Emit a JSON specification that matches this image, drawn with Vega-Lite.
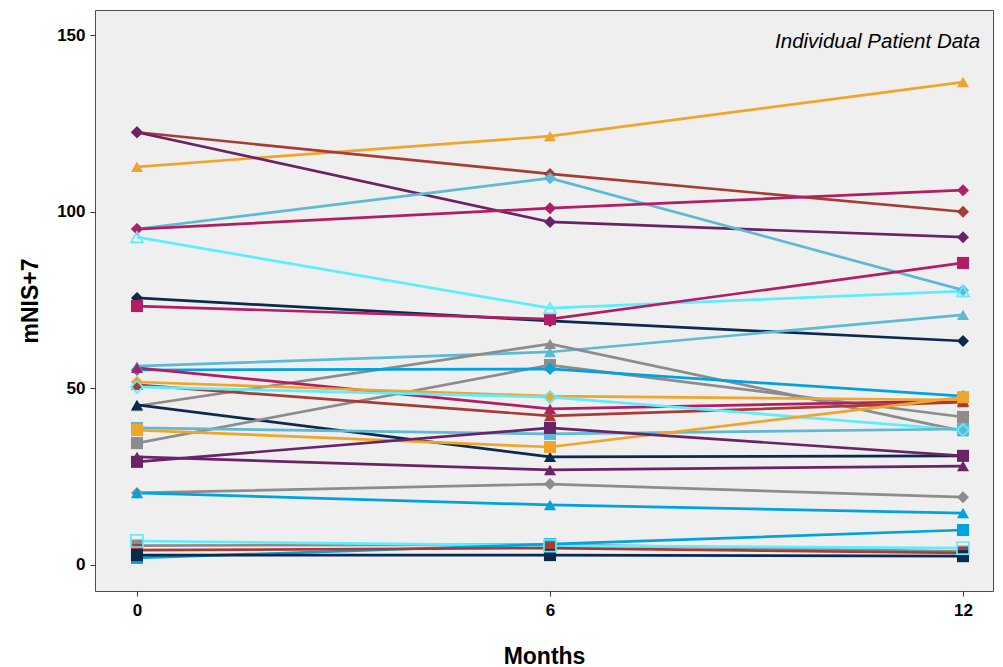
{
  "$schema": "https://vega.github.io/schema/vega-lite/v6.json",
  "width": 898,
  "height": 581,
  "autosize": {"type": "none"},
  "padding": {"left": 95, "top": 10, "right": 10, "bottom": 76},
  "background": "white",
  "config": {
    "font": "Liberation Sans",
    "view": {"fill": "#EFEFEF", "stroke": "#4D4D4D", "strokeWidth": 1}
  },
  "datasets": {
    "pts": [
      {"pid": "P01", "month": 0, "value": 112.7, "open": 0}, {"pid": "P01", "month": 6, "value": 121.4, "open": 0}, {"pid": "P01", "month": 12, "value": 136.7, "open": 0},
      {"pid": "P02", "month": 0, "value": 122.5, "open": 0}, {"pid": "P02", "month": 6, "value": 110.7, "open": 0}, {"pid": "P02", "month": 12, "value": 100.0, "open": 0},
      {"pid": "P03", "month": 0, "value": 122.5, "open": 0}, {"pid": "P03", "month": 6, "value": 97.1, "open": 0}, {"pid": "P03", "month": 12, "value": 92.8, "open": 0},
      {"pid": "P04", "month": 0, "value": 95.1, "open": 0}, {"pid": "P04", "month": 6, "value": 109.5, "open": 0}, {"pid": "P04", "month": 12, "value": 77.8, "open": 0},
      {"pid": "P05", "month": 0, "value": 95.1, "open": 0}, {"pid": "P05", "month": 6, "value": 101.0, "open": 0}, {"pid": "P05", "month": 12, "value": 106.1, "open": 0},
      {"pid": "P06", "month": 0, "value": 92.8, "open": 1}, {"pid": "P06", "month": 6, "value": 72.7, "open": 1}, {"pid": "P06", "month": 12, "value": 77.5, "open": 1},
      {"pid": "P07", "month": 0, "value": 75.6, "open": 0}, {"pid": "P07", "month": 6, "value": 69.1, "open": 0}, {"pid": "P07", "month": 12, "value": 63.4, "open": 0},
      {"pid": "P08", "month": 0, "value": 73.3, "open": 0}, {"pid": "P08", "month": 6, "value": 69.6, "open": 0}, {"pid": "P08", "month": 12, "value": 85.5, "open": 0},
      {"pid": "P09", "month": 0, "value": 56.3, "open": 0}, {"pid": "P09", "month": 6, "value": 60.3, "open": 0}, {"pid": "P09", "month": 12, "value": 70.8, "open": 0},
      {"pid": "P10", "month": 0, "value": 45.0, "open": 0}, {"pid": "P10", "month": 6, "value": 62.6, "open": 0}, {"pid": "P10", "month": 12, "value": 37.9, "open": 0},
      {"pid": "P11", "month": 0, "value": 45.3, "open": 0}, {"pid": "P11", "month": 6, "value": 30.6, "open": 0}, {"pid": "P11", "month": 12, "value": 30.9, "open": 0},
      {"pid": "P12", "month": 0, "value": 34.5, "open": 0}, {"pid": "P12", "month": 6, "value": 56.6, "open": 0}, {"pid": "P12", "month": 12, "value": 41.9, "open": 0},
      {"pid": "P13", "month": 0, "value": 55.2, "open": 0}, {"pid": "P13", "month": 6, "value": 55.5, "open": 0}, {"pid": "P13", "month": 12, "value": 47.8, "open": 0},
      {"pid": "P14", "month": 0, "value": 55.8, "open": 0}, {"pid": "P14", "month": 6, "value": 44.2, "open": 0}, {"pid": "P14", "month": 12, "value": 46.5, "open": 0},
      {"pid": "P15", "month": 0, "value": 51.8, "open": 0}, {"pid": "P15", "month": 6, "value": 47.8, "open": 0}, {"pid": "P15", "month": 12, "value": 46.7, "open": 0},
      {"pid": "P16", "month": 0, "value": 51.0, "open": 0}, {"pid": "P16", "month": 6, "value": 42.2, "open": 0}, {"pid": "P16", "month": 12, "value": 46.1, "open": 0},
      {"pid": "P17", "month": 0, "value": 50.4, "open": 1}, {"pid": "P17", "month": 6, "value": 47.5, "open": 1}, {"pid": "P17", "month": 12, "value": 38.2, "open": 1},
      {"pid": "P18", "month": 0, "value": 38.8, "open": 0}, {"pid": "P18", "month": 6, "value": 37.1, "open": 0}, {"pid": "P18", "month": 12, "value": 38.5, "open": 0},
      {"pid": "P19", "month": 0, "value": 38.2, "open": 0}, {"pid": "P19", "month": 6, "value": 33.4, "open": 0}, {"pid": "P19", "month": 12, "value": 47.5, "open": 0},
      {"pid": "P20", "month": 0, "value": 29.2, "open": 0}, {"pid": "P20", "month": 6, "value": 38.8, "open": 0}, {"pid": "P20", "month": 12, "value": 30.9, "open": 0},
      {"pid": "P21", "month": 0, "value": 30.6, "open": 0}, {"pid": "P21", "month": 6, "value": 26.9, "open": 0}, {"pid": "P21", "month": 12, "value": 28.0, "open": 0},
      {"pid": "P22", "month": 0, "value": 20.4, "open": 0}, {"pid": "P22", "month": 6, "value": 22.9, "open": 0}, {"pid": "P22", "month": 12, "value": 19.2, "open": 0},
      {"pid": "P23", "month": 0, "value": 20.4, "open": 0}, {"pid": "P23", "month": 6, "value": 17.0, "open": 0}, {"pid": "P23", "month": 12, "value": 14.7, "open": 0},
      {"pid": "P28", "month": 0, "value": 5.5, "open": 0}, {"pid": "P28", "month": 6, "value": 5.8, "open": 0}, {"pid": "P28", "month": 12, "value": 3.8, "open": 0},
      {"pid": "P24", "month": 0, "value": 6.8, "open": 1}, {"pid": "P24", "month": 6, "value": 5.5, "open": 1}, {"pid": "P24", "month": 12, "value": 4.8, "open": 1},
      {"pid": "P25", "month": 0, "value": 2.0, "open": 0}, {"pid": "P25", "month": 6, "value": 5.9, "open": 0}, {"pid": "P25", "month": 12, "value": 9.9, "open": 0},
      {"pid": "P26", "month": 0, "value": 4.2, "open": 0}, {"pid": "P26", "month": 6, "value": 4.8, "open": 0}, {"pid": "P26", "month": 12, "value": 3.4, "open": 0},
      {"pid": "P27", "month": 0, "value": 2.8, "open": 0}, {"pid": "P27", "month": 6, "value": 2.8, "open": 0}, {"pid": "P27", "month": 12, "value": 2.5, "open": 0}
    ],
    "ann": [{"month": 12.25, "value": 148, "label": "Individual Patient Data"}]
  },
  "encoding": {
    "x": {
      "field": "month", "type": "quantitative",
      "scale": {"domain": [-0.61, 12.436], "nice": false, "zero": false},
      "axis": {
        "values": [0, 6, 12], "title": "Months", "grid": false, "domain": false,
        "tickColor": "#333333", "tickSize": 5, "labelPadding": 6,
        "labelFontSize": 17, "labelFontWeight": "bold", "labelColor": "black",
        "titleFontSize": 23, "titleFontWeight": "bold", "titleColor": "black", "titlePadding": 27
      }
    },
    "y": {
      "field": "value", "type": "quantitative",
      "scale": {"domain": [-7.36, 157.1], "nice": false, "zero": false},
      "axis": {
        "values": [0, 50, 100, 150], "title": "mNIS+7", "grid": false, "domain": false,
        "tickColor": "#333333", "tickSize": 5, "labelPadding": 5,
        "labelFontSize": 17, "labelFontWeight": "bold", "labelColor": "black",
        "titleFontSize": 23, "titleFontWeight": "bold", "titleColor": "black", "titlePadding": 14
      }
    }
  },
  "layer": [
    {
      "data": {"name": "pts"},
      "mark": {"type": "line", "strokeWidth": 2.7},
      "encoding": {
        "color": {"field": "pid", "type": "nominal", "legend": null,
          "scale": {
            "domain": ["P01","P02","P03","P04","P05","P06","P07","P08","P09","P10","P11","P12","P13","P14","P15","P16","P17","P18","P19","P20","P21","P22","P23","P24","P25","P26","P27","P28"],
            "range": ["#EFA52B","#A83B33","#6B2368","#5DBAD5","#B21D63","#5CEEFF","#0B2A4F","#B21D63","#5DBAD5","#8C8C8C","#0B2A4F","#8C8C8C","#00A2DF","#B21D63","#EFA52B","#A83B33","#5CEEFF","#5DBAD5","#EFA52B","#6B2368","#6B2368","#8C8C8C","#00A2DF","#5CEEFF","#00A2DF","#A83B33","#0B2A4F","#8C8C8C"]
          }
        },
        "detail": {"field": "pid"}
      }
    },
    {
      "data": {"name": "pts"},
      "transform": [{"filter": "datum.open == 0"}],
      "mark": {"type": "point", "filled": true, "size": 145, "opacity": 1},
      "encoding": {
        "color": {"field": "pid", "type": "nominal", "legend": null},
        "shape": {"field": "pid", "type": "nominal", "legend": null,
          "scale": {
            "domain": ["P01","P02","P03","P04","P05","P06","P07","P08","P09","P10","P11","P12","P13","P14","P15","P16","P17","P18","P19","P20","P21","P22","P23","P24","P25","P26","P27","P28"],
            "range": ["triangle-up","diamond","diamond","diamond","diamond","triangle-up","diamond","square","triangle-up","triangle-up","triangle-up","square","diamond","triangle-up","diamond","triangle-up","diamond","square","square","square","triangle-up","diamond","triangle-up","square","square","square","square","square"]
          }
        }
      }
    },
    {
      "data": {"name": "pts"},
      "transform": [{"filter": "datum.open == 1"}],
      "mark": {"type": "point", "filled": false, "size": 145, "strokeWidth": 1.7, "opacity": 1},
      "encoding": {
        "color": {"field": "pid", "type": "nominal", "legend": null},
        "shape": {"field": "pid", "type": "nominal", "legend": null}
      }
    },
    {
      "data": {"name": "ann"},
      "mark": {"type": "text", "align": "right", "baseline": "middle", "fontStyle": "italic", "fontSize": 20.5, "color": "black"},
      "encoding": {"text": {"field": "label"}}
    }
  ]
}
